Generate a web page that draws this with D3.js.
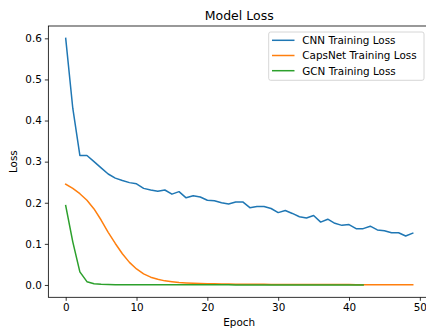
<!DOCTYPE html>
<meta charset="utf-8">
<script src="https://d3js.org/d3.v7.min.js"></script>
<style>
  body { margin: 0; background: #fff; }
  svg { display: block; overflow: hidden; }
  text { font-family: 'DejaVu Sans', sans-serif; fill: #000; }
</style>
<div id="my_dataviz"></div>
<script>
// values
var epochs = d3.range(0, 50);
var cnnLoss = [0.600, 0.430, 0.315, 0.315, 0.300, 0.285, 0.270, 0.260, 0.254, 0.249,
               0.246, 0.235, 0.231, 0.228, 0.231, 0.221, 0.227, 0.212, 0.217, 0.214,
               0.206, 0.205, 0.200, 0.197, 0.202, 0.202, 0.188, 0.191, 0.191, 0.186,
               0.176, 0.181, 0.174, 0.166, 0.163, 0.169, 0.153, 0.160, 0.150, 0.145,
               0.147, 0.137, 0.137, 0.143, 0.134, 0.132, 0.127, 0.127, 0.119, 0.126];
var capsLoss = [0.245, 0.235, 0.222, 0.206, 0.185, 0.158, 0.128, 0.101, 0.076, 0.055,
                0.039, 0.027, 0.019, 0.014, 0.010, 0.008, 0.006, 0.005, 0.0042, 0.0036,
                0.0031, 0.0027, 0.0024, 0.0022, 0.0020, 0.0018, 0.0017, 0.0016, 0.0015, 0.0014,
                0.0013, 0.0012, 0.0012, 0.0011, 0.0011, 0.0010, 0.0010, 0.0010, 0.0009, 0.0009,
                0.0009, 0.0008, 0.0008, 0.0008, 0.0008, 0.0007, 0.0007, 0.0007, 0.0007, 0.0007];
var gcnLoss = [0.193, 0.105, 0.032, 0.008, 0.003, 0.0015, 0.0010, 0.0008, 0.0007, 0.0006,
               0.0005, 0.0005, 0.0004, 0.0004, 0.0004, 0.0004, 0.0003, 0.0003, 0.0003, 0.0003,
               0.0003, 0.0003, 0.0003, 0.0003, 0.0002, 0.0002, 0.0002, 0.0002, 0.0002, 0.0002,
               0.0002, 0.0002, 0.0002, 0.0002, 0.0002, 0.0002, 0.0002, 0.0002, 0.0002, 0.0002,
               0.0002, 0.0002, 0.0002];
var seriesNames = ["CNN Training Loss", "CapsNet Training Loss", "GCN Training Loss"];
var seriesColors = ["#1f77b4", "#ff7f0e", "#2ca02c"];
var xTicks = [0, 10, 20, 30, 40, 50];
var yTicks = [0.0, 0.1, 0.2, 0.3, 0.4, 0.5, 0.6];

var W = 426, H = 329;
var m = {left: 48.35, right: 430.1, top: 26, bottom: 297.3};

var svg = d3.select("#my_dataviz")
  .append("svg")
    .attr("width", W)
    .attr("height", H);

var x = d3.scaleLinear().domain([-2.45, 51.45]).range([m.left, m.right]);
var y = d3.scaleLinear().domain([-0.03, 0.63]).range([m.bottom, m.top]);

// axes
var xAxis = svg.append("g")
  .attr("transform", "translate(0," + m.bottom + ")")
  .call(d3.axisBottom(x).tickValues(xTicks).tickSize(3.5).tickPadding(3).tickFormat(d3.format("d")));
var yAxis = svg.append("g")
  .attr("transform", "translate(" + m.left + ",0)")
  .call(d3.axisLeft(y).tickValues(yTicks).tickSize(3.5).tickPadding(3).tickFormat(d3.format(".1f")));
[xAxis, yAxis].forEach(function(g) {
  g.select(".domain").remove();
  g.selectAll(".tick line").attr("stroke", "#000").attr("stroke-width", 0.8);
  g.selectAll(".tick text").style("font-size", "10.4px").attr("fill", "#000");
});

// frame
svg.append("rect")
  .attr("x", m.left).attr("y", m.top)
  .attr("width", m.right - m.left).attr("height", m.bottom - m.top)
  .attr("fill", "none").attr("stroke", "#000").attr("stroke-width", 0.8);

// lines
var line = d3.line()
  .x(function(d, i) { return x(epochs[i]); })
  .y(function(d) { return y(d); });
[cnnLoss, capsLoss, gcnLoss].forEach(function(s, i) {
  svg.append("path")
    .attr("d", line(s))
    .attr("fill", "none")
    .attr("stroke", seriesColors[i])
    .attr("stroke-width", 1.5)
    .attr("stroke-linejoin", "round")
    .attr("stroke-linecap", "square");
});

// title and labels
svg.append("text")
  .attr("x", (m.left + m.right) / 2).attr("y", 20)
  .attr("text-anchor", "middle")
  .style("font-size", "12.5px")
  .text("Model Loss");
svg.append("text")
  .attr("x", (m.left + m.right) / 2).attr("y", 326)
  .attr("text-anchor", "middle")
  .style("font-size", "10.4px")
  .text("Epoch");
svg.append("text")
  .attr("transform", "translate(16.5," + ((m.top + m.bottom) / 2) + ") rotate(-90)")
  .attr("text-anchor", "middle")
  .style("font-size", "10.4px")
  .text("Loss");

// legend
var legend = svg.append("g");
legend.append("rect")
  .attr("x", 268.7).attr("y", 32)
  .attr("width", 155.3).attr("height", 48.3)
  .attr("rx", 2)
  .attr("fill", "#fff").attr("fill-opacity", 0.8)
  .attr("stroke", "#cccccc").attr("stroke-width", 0.8);
seriesNames.forEach(function(name, i) {
  var ly = 40.3 + i * 15.2;
  legend.append("line")
    .attr("x1", 272).attr("x2", 294.5)
    .attr("y1", ly).attr("y2", ly)
    .attr("stroke", seriesColors[i]).attr("stroke-width", 1.5);
  legend.append("text")
    .attr("x", 302.3).attr("y", ly + 3.8)
    .style("font-size", "10.4px")
    .text(name);
});
</script>
